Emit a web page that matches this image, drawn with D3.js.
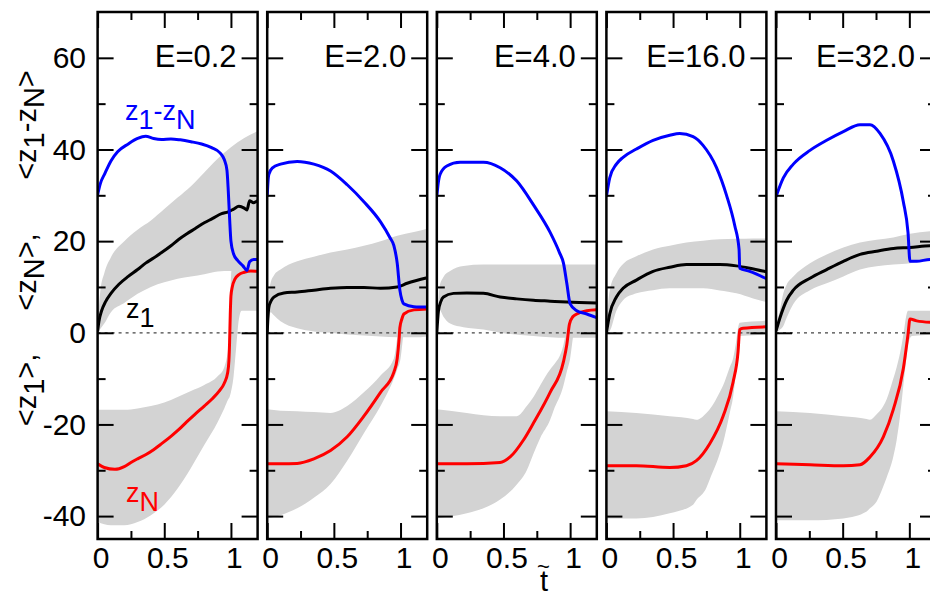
<!DOCTYPE html>
<html>
<head>
<meta charset="utf-8">
<script src="https://cdn.jsdelivr.net/npm/d3@7"></script>
<style>
  body { margin: 0; background: #fff; }
  svg { display: block; }
</style>
</head>
<body>
<svg id="chart" width="930" height="599"></svg>
<script>
// Field strengths, one panel each
const energies = ["0.2", "2.0", "4.0", "16.0", "32.0"];

// Tick values
const xMajorTicks = [0, 0.5, 1];
const xMinorTicks = [0.25, 0.75];
const yMajorTicks = [-40, -20, 0, 20, 40, 60];
const yMinorTicks = [-30, -10, 10, 30, 50];

// <z1 - zN> (blue), one list of [t, value] per panel
const diffSeries = [
  [[0,30.1],[0.02,32.5],[0.055,34.8],[0.1,37.5],[0.15,39.5],[0.23,41.2],[0.3,42.4],[0.36,42.9],[0.42,42.4],[0.48,42.2],[0.55,42.3],[0.62,42.1],[0.7,41.7],[0.78,41.2],[0.855,40.4],[0.92,39.2],[0.95,37.8],[0.97,35.5],[0.98,31],[0.99,25],[1.0,20],[1.02,17.2],[1.05,15.8],[1.09,14.6],[1.12,13.6],[1.14,15.5],[1.17,16],[1.2,16]],
  [[0,29.7],[0.006,33],[0.0125,34.6],[0.04,36],[0.1,36.8],[0.225,37.4],[0.35,36.8],[0.475,35.3],[0.6,32.3],[0.725,28.6],[0.85,24.2],[0.92,20.8],[0.95,19],[0.975,15.2],[0.995,9.3],[1.01,7.2],[1.025,6.3],[1.1,5.7],[1.2,5.6]],
  [[0,29.7],[0.01,32.5],[0.025,34.6],[0.075,36.4],[0.175,37.2],[0.35,37.2],[0.475,36],[0.6,33.1],[0.725,27.9],[0.85,21.9],[0.92,17.5],[0.95,15.2],[0.975,10.8],[1.0,6.3],[1.05,4.8],[1.125,4.1],[1.2,3.3]],
  [[0,29.7],[0.025,33.8],[0.075,36.8],[0.125,38.3],[0.225,40.1],[0.35,42],[0.475,43.1],[0.55,43.5],[0.65,42.8],[0.725,40.9],[0.825,36.1],[0.9,30.1],[0.9625,23.4],[0.995,18.2],[1.0,14.1],[1.075,13.4],[1.2,11.8]],
  [[0,29.7],[0.055,33.8],[0.13,36.8],[0.255,39.8],[0.38,42],[0.505,43.9],[0.63,45.4],[0.705,45.4],[0.78,43.5],[0.88,37.5],[0.955,28.6],[0.99,21.9],[1.005,15.6],[1.055,15.6],[1.155,16],[1.2,16]]
];

// <z1> (black)
const z1Series = [
  [[0,0.3],[0.01,2.5],[0.03,4.8],[0.06,6.8],[0.1,8.6],[0.16,10.6],[0.23,12.3],[0.3,13.8],[0.36,15.2],[0.42,16.3],[0.48,17.5],[0.55,19],[0.61,20.4],[0.67,21.6],[0.73,22.7],[0.8,24],[0.86,24.9],[0.93,26],[0.98,26.4],[1.02,27],[1.06,27.6],[1.1,27.2],[1.12,26.8],[1.14,28.8],[1.17,28.4],[1.2,28.8]],
  [[0,0],[0.005,3],[0.0125,5.6],[0.03,7],[0.05,7.8],[0.125,8.7],[0.225,8.9],[0.35,9.3],[0.475,9.7],[0.6,9.9],[0.725,9.9],[0.85,9.7],[0.975,10],[1.05,10.8],[1.2,12]],
  [[0,0],[0.0125,4.8],[0.03,6.8],[0.05,7.8],[0.125,8.6],[0.225,8.7],[0.35,8.6],[0.475,7.8],[0.6,7.4],[0.725,7.1],[0.85,6.9],[0.975,6.7],[1.2,6.5]],
  [[0,0],[0.025,4.1],[0.075,7.8],[0.125,9.7],[0.225,11.5],[0.35,13.4],[0.475,14.3],[0.6,14.9],[0.725,14.9],[0.85,14.9],[0.975,14.6],[1.075,14.1],[1.2,13.3]],
  [[0,0.4],[0.03,3.3],[0.08,7.1],[0.13,9.3],[0.255,11.9],[0.38,13.8],[0.505,15.6],[0.63,17.1],[0.755,17.8],[0.88,18.4],[1.005,18.6],[1.155,19],[1.2,19]]
];

// <zN> (red)
const zNSeries = [
  [[0,-28.6],[0.05,-29.4],[0.13,-29.8],[0.2,-29.2],[0.25,-28.3],[0.3,-27.5],[0.36,-26.6],[0.42,-25.5],[0.48,-24.2],[0.55,-22.6],[0.61,-21.1],[0.67,-19.4],[0.73,-17.8],[0.8,-16],[0.86,-14.4],[0.91,-12.8],[0.95,-11],[0.975,-8.8],[0.985,-6],[0.99,-2],[0.995,4],[1.0,8],[1.01,10],[1.03,11.7],[1.06,12.7],[1.1,13.2],[1.15,13.5],[1.2,13.4]],
  [[0,-28.6],[0.1,-28.6],[0.225,-28.5],[0.35,-27.5],[0.475,-25.7],[0.6,-22.7],[0.725,-18.2],[0.85,-13],[0.95,-8.6],[0.975,-5.6],[0.99,-1],[0.995,1.1],[1.01,3],[1.025,4.1],[1.1,5],[1.2,5.2]],
  [[0,-28.6],[0.225,-28.6],[0.475,-28.3],[0.55,-27.1],[0.65,-23.4],[0.725,-19.7],[0.85,-13],[0.95,-6.3],[0.975,-2.6],[0.995,1.9],[1.02,3.5],[1.05,4.1],[1.125,4.8],[1.2,5]],
  [[0,-29],[0.225,-29],[0.475,-29.4],[0.6,-29],[0.675,-27.9],[0.775,-24.2],[0.875,-18.2],[0.95,-10.8],[0.9875,-4.1],[1.0,0.7],[1.025,1],[1.2,1.3]],
  [[0,-28.6],[0.255,-28.8],[0.505,-29],[0.63,-28.8],[0.705,-27.1],[0.805,-22.7],[0.88,-16.7],[0.955,-7.8],[0.99,-0.4],[1.005,3],[1.055,2.6],[1.2,2.2]]
];

// Spread of z1: [t, lower, upper]
const z1Bands = [
  [[0,0,1.5],[0.02,0.8,9],[0.05,2,13],[0.1,4.5,16.5],[0.2,6.5,20],[0.3,8.5,22.5],[0.4,10,24.5],[0.5,11,27],[0.6,11.8,29.5],[0.7,12.3,32],[0.8,12.8,35],[0.9,13.4,38],[1.0,13.5,40.5],[1.1,13.5,42.5],[1.2,13.5,44]],
  [[0,0,1],[0.01,2,8],[0.025,4.5,10.8],[0.05,3.8,12.5],[0.1,2.5,13.8],[0.225,1,15.6],[0.35,0.3,16.6],[0.475,0,17.5],[0.6,-0.4,18.2],[0.725,-0.6,19],[0.85,-0.8,20],[0.975,-1,21.2],[1.1,-1,22],[1.2,-0.8,22.7]],
  [[0,0,1],[0.0125,2.5,7],[0.02,5,10],[0.05,3.5,12.2],[0.1,2,13.5],[0.2,1.2,14.6],[0.35,0.7,14.9],[0.475,0,14.9],[0.725,-0.7,14.9],[0.975,-1.1,14.9],[1.2,-1.1,14.9]],
  [[0,0,1],[0.025,0.4,9.3],[0.075,4.8,13],[0.125,7.1,15],[0.225,8.6,16.7],[0.35,9.3,18.2],[0.475,9.7,19],[0.6,9.7,19.7],[0.725,9.7,20.1],[0.85,9.2,20.4],[0.975,8.6,20.5],[1.1,7.5,20.6],[1.2,6.7,20.6]],
  [[0,0,1],[0.03,0.7,5],[0.055,1.5,8.6],[0.08,3.3,10.5],[0.13,6.3,12.3],[0.255,9.3,15.2],[0.38,10.8,17.1],[0.505,12.3,18.6],[0.63,13.8,19.7],[0.88,14.9,20.8],[1.005,15.2,21.6],[1.2,16.4,22.3]]
];

// Spread of zN: [t, lower, upper]
const zNBands = [
  [[0,-41.3,-16.8],[0.1,-42,-16.8],[0.2,-42,-16.8],[0.3,-41.3,-16.5],[0.4,-39.8,-16],[0.5,-37.5,-15.2],[0.6,-34,-14],[0.7,-29.5,-12.7],[0.8,-24.5,-11.4],[0.9,-19.5,-9.5],[0.95,-16.5,-7.5],[0.98,-14.5,-3],[0.99,-14,3],[1.0,-13,12],[1.02,-9.5,17],[1.04,-3,18],[1.06,3,18],[1.08,4.8,18],[1.2,4.8,18]],
  [[0,-40.5,-16.7],[0.1,-39.8,-17],[0.225,-38.3,-17.1],[0.35,-36,-17.3],[0.475,-33,-17.5],[0.6,-27.9,-16],[0.725,-21.9,-13],[0.85,-16,-9.3],[0.95,-10,-5.6],[0.975,-8,-1.1],[1.0,-5.6,4.8],[1.025,0.4,6.5],[1.05,3.3,7],[1.2,4.1,7]],
  [[0,-40.5,-16.7],[0.225,-39.4,-17.5],[0.35,-38.3,-18],[0.475,-36.4,-18.2],[0.6,-33.1,-18.2],[0.675,-30,-16],[0.725,-26.4,-14],[0.775,-23,-11.5],[0.85,-19,-8],[0.875,-17,-7.1],[0.95,-11.5,-2.6],[0.975,-8.5,1.1],[1.0,-5.6,4],[1.025,-0.4,5.5],[1.075,3.3,6],[1.2,3.7,6]],
  [[0,-40.5,-17.1],[0.225,-40.5,-17.5],[0.475,-39.4,-18.2],[0.65,-37.5,-18.8],[0.675,-36.5,-19],[0.75,-33.8,-17.5],[0.775,-32,-16.7],[0.85,-26.4,-13],[0.875,-24,-11.5],[0.925,-17.5,-7.5],[0.95,-14,-5.6],[0.975,-7.8,-1.5],[0.9875,-4,1.1],[1.0,-0.7,2.2],[1.2,-0.4,2.6]],
  [[0,-40.9,-17.1],[0.255,-40.9,-17.5],[0.505,-40.5,-18.2],[0.68,-39,-18.8],[0.705,-38.3,-19],[0.755,-36.8,-17.8],[0.805,-33.5,-16],[0.83,-31.6,-14.5],[0.88,-27,-10],[0.905,-23.4,-7.5],[0.9425,-15,-2.6],[0.955,-11.5,-0.5],[0.98,-5,4.1],[0.99,-2.6,4.8],[1.02,-0.7,4.8],[1.2,-0.4,4.8]]
];

// ---- layout ----
const FONT = "'Liberation Sans', Arial, Helvetica, sans-serif";
const svg = d3.select("#chart");
const plotTop = 12, plotBottom = 539;
const firstLeft = 97.6, panelStep = 169.6, panelWidth = 160;
const MAJOR = 16, MINOR = 8;
const TICK_FONT = 30;

const y = d3.scaleLinear().domain([-45, 70]).range([plotBottom, plotTop]);

const BAND = "#d3d3d3";

function styleAxis(g, labels) {
  g.select(".domain").remove();
  g.selectAll(".tick line").attr("stroke", "#000").attr("stroke-width", 2);
  g.attr("font-family", FONT).attr("font-size", TICK_FONT);
  g.selectAll(".tick text").attr("fill", "#000");
  if (!labels) g.selectAll(".tick text").remove();
}

energies.forEach((E, i) => {
  const left = firstLeft + i * panelStep;
  const x = d3.scaleLinear().domain([0, 1.2]).range([left, left + panelWidth]);
  const panel = svg.append("g");

  const clipId = "clip" + i;
  svg.append("defs").append("clipPath").attr("id", clipId)
    .append("rect").attr("x", left).attr("y", plotTop)
    .attr("width", panelWidth).attr("height", plotBottom - plotTop);

  const data = panel.append("g").attr("clip-path", `url(#${clipId})`);

  const band = d3.area()
    .x(d => x(d[0])).y0(d => y(d[1])).y1(d => y(d[2]))
    .curve(d3.curveMonotoneX);
  data.append("path").attr("d", band(z1Bands[i])).attr("fill", BAND);
  data.append("path").attr("d", band(zNBands[i])).attr("fill", BAND);

  // zero reference
  data.append("line")
    .attr("x1", x(0)).attr("x2", x(1.2)).attr("y1", y(0)).attr("y2", y(0))
    .attr("stroke", "#444").attr("stroke-width", 1.3).attr("stroke-dasharray", "3,4");

  const line = d3.line().x(d => x(d[0])).y(d => y(d[1])).curve(d3.curveMonotoneX);
  data.append("path").attr("d", line(z1Series[i])).attr("fill", "none")
    .attr("stroke", "#000").attr("stroke-width", 3).attr("stroke-linejoin", "round");
  data.append("path").attr("d", line(zNSeries[i])).attr("fill", "none")
    .attr("stroke", "#ff0000").attr("stroke-width", 3).attr("stroke-linejoin", "round");
  data.append("path").attr("d", line(diffSeries[i])).attr("fill", "none")
    .attr("stroke", "#0000ff").attr("stroke-width", 3).attr("stroke-linejoin", "round");

  // ticks on all four sides, pointing inward
  panel.append("g").attr("transform", `translate(0,${plotBottom})`)
    .call(d3.axisBottom(x).tickValues(xMajorTicks).tickSize(-MAJOR).tickPadding(8)
      .tickFormat(d3.format("~g")))
    .call(g => styleAxis(g, true))
    .call(g => g.selectAll(".tick text").attr("dx", 3));
  panel.append("g").attr("transform", `translate(0,${plotBottom})`)
    .call(d3.axisBottom(x).tickValues(xMinorTicks).tickSize(-MINOR))
    .call(g => styleAxis(g, false));
  panel.append("g").attr("transform", `translate(0,${plotTop})`)
    .call(d3.axisTop(x).tickValues(xMajorTicks).tickSize(-MAJOR))
    .call(g => styleAxis(g, false));
  panel.append("g").attr("transform", `translate(0,${plotTop})`)
    .call(d3.axisTop(x).tickValues(xMinorTicks).tickSize(-MINOR))
    .call(g => styleAxis(g, false));

  panel.append("g").attr("transform", `translate(${left},0)`)
    .call(d3.axisLeft(y).tickValues(yMajorTicks).tickSize(-MAJOR).tickPadding(11.6)
      .tickFormat(d => String(d)))
    .call(g => styleAxis(g, i === 0));
  panel.append("g").attr("transform", `translate(${left},0)`)
    .call(d3.axisLeft(y).tickValues(yMinorTicks).tickSize(-MINOR))
    .call(g => styleAxis(g, false));
  panel.append("g").attr("transform", `translate(${left + panelWidth},0)`)
    .call(d3.axisRight(y).tickValues(yMajorTicks).tickSize(-MAJOR))
    .call(g => styleAxis(g, false));
  panel.append("g").attr("transform", `translate(${left + panelWidth},0)`)
    .call(d3.axisRight(y).tickValues(yMinorTicks).tickSize(-MINOR))
    .call(g => styleAxis(g, false));

  panel.append("rect")
    .attr("x", left).attr("y", plotTop)
    .attr("width", panelWidth).attr("height", plotBottom - plotTop)
    .attr("fill", "none").attr("stroke", "#000").attr("stroke-width", 2.5);

  panel.append("text")
    .attr("x", left + panelWidth - 21).attr("y", 67)
    .attr("text-anchor", "end")
    .attr("font-family", FONT).attr("font-size", 31).attr("fill", "#000")
    .text("E=" + E);
});

// text with subscripts: parts = [[string, isSub], ...]
function richText(sel, parts, subShift) {
  let shifted = false;
  parts.forEach(([s, sub]) => {
    const t = sel.append("tspan").text(s);
    if (sub && !shifted) { t.attr("dy", subShift); shifted = true; }
    else if (!sub && shifted) { t.attr("dy", -subShift); shifted = false; }
  });
  return sel;
}

// series labels in the first panel
function seriesLabel(px, py, parts, color) {
  const t = svg.append("text").attr("x", px).attr("y", py)
    .attr("font-family", FONT).attr("font-size", 27).attr("fill", color);
  richText(t, parts, 9);
}
seriesLabel(125, 120, [["z", false], ["1", true], ["-z", false], ["N", true]], "#0000ff");
seriesLabel(126, 318, [["z", false], ["1", true]], "#000");
seriesLabel(126, 502, [["z", false], ["N", true]], "#ff0000");

// vertical axis title
const yTitleParts = [
  { cy: 390, parts: [["<z", false], ["1", true], [">,", false]] },
  { cy: 272, parts: [["<z", false], ["N", true], [">,", false]] },
  { cy: 125, parts: [["<z", false], ["1", true], ["-z", false], ["N", true], [">", false]] }
];
yTitleParts.forEach(p => {
  const t = svg.append("text")
    .attr("transform", `translate(36,${p.cy}) rotate(-90)`)
    .attr("text-anchor", "middle")
    .attr("font-family", FONT).attr("font-size", 29).attr("fill", "#000");
  richText(t, p.parts, 8);
});

// horizontal axis title: t with a tilde above it
const tTitle = svg.append("text").attr("x", 537).attr("y", 591)
  .attr("font-family", FONT).attr("font-size", 29).attr("fill", "#000");
tTitle.append("tspan").text("t");
tTitle.append("tspan").attr("dx", -11).attr("dy", -17).attr("font-size", 22).text("~");
</script>
</body>
</html>
